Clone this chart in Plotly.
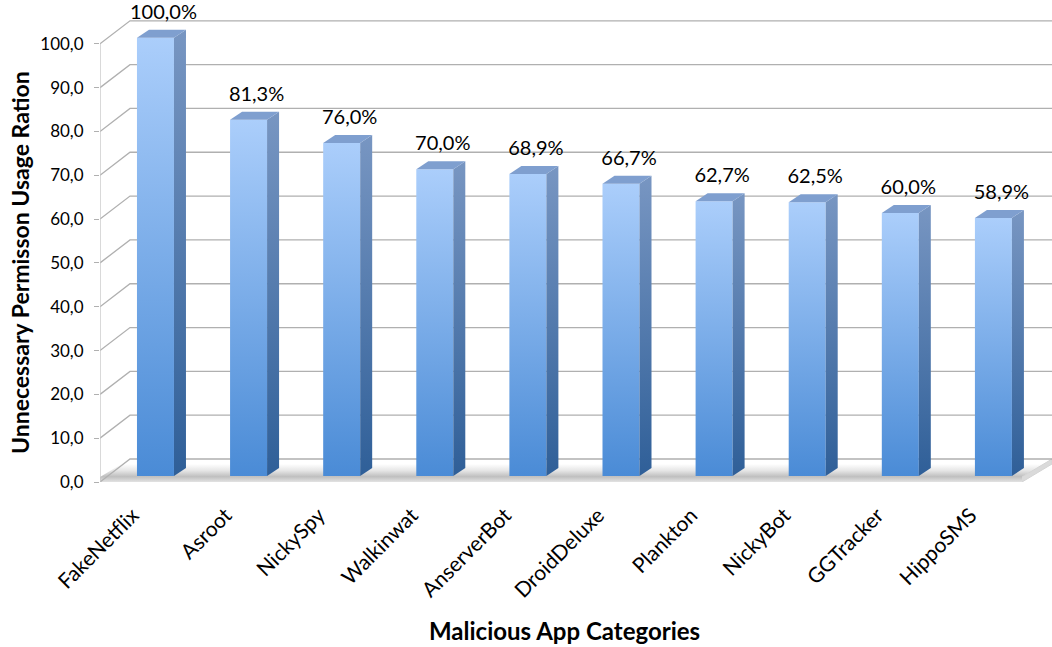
import plotly.graph_objects as go

# ---- data ----
categories = ["FakeNetflix", "Asroot", "NickySpy", "Walkinwat", "AnserverBot",
              "DroidDeluxe", "Plankton", "NickyBot", "GGTracker", "HippoSMS"]
ratios = [100.0, 81.3, 76.0, 70.0, 68.9, 66.7, 62.7, 62.5, 60.0, 58.9]
y_ticks = [0, 10, 20, 30, 40, 50, 60, 70, 80, 90, 100]
y_title = "Unnecessary Permisson Usage Ration"
x_title = "Malicious App Categories"

# ---- layout geometry ----
W, H = 1052, 647
ML, MR, MT, MB = 100, 0, 0, 165
PLOT_W, PLOT_H = W - ML - MR, H - MT - MB
X_RANGE = [-0.512, 9.713]
Y_RANGE = [0.0, 110.0]
PXX = PLOT_W / (X_RANGE[1] - X_RANGE[0])   # pixels per category unit
PXY = PLOT_H / (Y_RANGE[1] - Y_RANGE[0])   # pixels per value unit

# oblique projection offsets in pixels (right, up)
BACK = (30, 23)        # front plane -> back wall
BAR_FRONT = (7.8, 6)   # front plane -> bar front face
BAR_DEPTH = (12, 8)    # bar front face -> bar back face
BAR_HALF = 18.5        # half width of bar front face (px)
LABEL_SHIFT = 15       # category labels sit left of the category centre (px)

FONT = "Lato, 'Open Sans', sans-serif"


def sx(px):
    return px / PXX


def sy(px):
    return px / PXY


fig = go.Figure()

# ---- floor slab ----
x0 = X_RANGE[0]
x1 = X_RANGE[1]
x_front_end = x1 - sx(BACK[0])
slab_top = sy(5)
# floor top surface with soft shadow near the front
fig.add_trace(go.Scatter(
    x=[x0, x_front_end, x1, x0 + sx(BACK[0]), x0],
    y=[slab_top, slab_top, sy(BACK[1]), sy(BACK[1]), slab_top],
    mode="lines", line=dict(width=0), fill="toself",
    fillgradient=dict(type="vertical", start=slab_top, stop=slab_top + sy(13),
                      colorscale=[[0, "#bdbdbd"], [0.5, "#e6e6e6"], [1, "#ffffff"]]),
    hoverinfo="skip", showlegend=False))
# slab front face
fig.add_trace(go.Scatter(
    x=[x0, x_front_end, x_front_end, x0, x0],
    y=[0, 0, slab_top, slab_top, 0],
    mode="lines", line=dict(width=0), fill="toself",
    fillgradient=dict(type="vertical",
                      colorscale=[[0, "#e2e2e2"], [1, "#c2c2c2"]]),
    hoverinfo="skip", showlegend=False))
# slab right end
fig.add_trace(go.Scatter(
    x=[x_front_end, x1, x1, x_front_end],
    y=[0, sy(BACK[1]) - slab_top, sy(BACK[1]), slab_top],
    mode="lines", line=dict(color="#d4d4d4", width=1), fill="toself",
    fillcolor="#dadada", hoverinfo="skip", showlegend=False))

# ---- side wall and back wall gridlines ----
for t in y_ticks:
    fig.add_trace(go.Scatter(
        x=[x0, x0 + sx(BACK[0]), x1],
        y=[t, t + sy(BACK[1]), t + sy(BACK[1])],
        mode="lines", line=dict(color="#b0b0b0", width=1.3),
        hoverinfo="skip", showlegend=False))

# value axis line
fig.add_trace(go.Scatter(
    x=[x0, x0], y=[y_ticks[0], y_ticks[-1]], mode="lines",
    line=dict(color="#c4c4c4", width=1.3), hoverinfo="skip", showlegend=False))

# ---- 3D bars ----
fx, fy = sx(BAR_FRONT[0]), sy(BAR_FRONT[1])
dx, dy = sx(BAR_DEPTH[0]), sy(BAR_DEPTH[1])
hw = sx(BAR_HALF)
for i, v in enumerate(ratios):
    left, right = i + fx - hw, i + fx + hw
    bot, top = fy, v + fy
    # front face
    fig.add_trace(go.Scatter(
        x=[left, right, right, left, left], y=[bot, bot, top, top, bot],
        mode="lines", line=dict(width=0), fill="toself",
        fillgradient=dict(type="vertical",
                          colorscale=[[0, "#4a8bd6"], [1, "#abcefb"]]),
        hoverinfo="skip", showlegend=False))
    # side face
    fig.add_trace(go.Scatter(
        x=[right, right + dx, right + dx, right, right],
        y=[bot, bot + dy, top + dy, top, bot],
        mode="lines", line=dict(width=0), fill="toself",
        fillgradient=dict(type="vertical",
                          colorscale=[[0, "#2f5f98"], [1, "#7896c2"]]),
        hoverinfo="skip", showlegend=False))
    # top face
    fig.add_trace(go.Scatter(
        x=[left, right, right + dx, left + dx, left],
        y=[top, top, top + dy, top + dy, top],
        mode="lines", line=dict(width=0), fill="toself",
        fillcolor="#7f9fcf", hoverinfo="skip", showlegend=False))

# ---- value labels ----
fig.add_trace(go.Scatter(
    x=[i + sx(BAR_FRONT[0] + 8) for i in range(len(ratios))],
    y=[v + sy(BAR_FRONT[1] + 24) for v in ratios],
    mode="text",
    text=[f"{v:.1f}%".replace(".", ",") for v in ratios],
    textposition="middle center",
    textfont=dict(family=FONT, size=20, color="#000000"),
    cliponaxis=False, hoverinfo="skip", showlegend=False))

fig.update_layout(
    width=W, height=H,
    margin=dict(l=ML, r=MR, t=MT, b=MB),
    paper_bgcolor="white", plot_bgcolor="white",
    separators=",.",
    xaxis=dict(range=X_RANGE,
               tickvals=[i - sx(LABEL_SHIFT) for i in range(len(categories))],
               ticktext=categories, tickangle=-45, ticklabelstandoff=16,
               tickfont=dict(family=FONT, size=21, color="#000000"),
               showgrid=False, zeroline=False, showline=False, ticks=""),
    yaxis=dict(range=Y_RANGE, tickvals=y_ticks, tickformat=".1f",
               tickfont=dict(family=FONT, size=17, color="#000000"),
               ticks="outside", ticklen=5, tickcolor="#b0b0b0",
               ticklabelstandoff=7,
               showgrid=False, zeroline=False, showline=False),
    annotations=[
        dict(text=f"<b>{x_title}</b>", xref="paper", yref="paper",
             x=(564 - ML) / PLOT_W, y=-(630 - MT - PLOT_H) / PLOT_H,
             xanchor="center", yanchor="middle", showarrow=False,
             font=dict(family=FONT, size=24, color="#000000")),
        dict(text=f"<b>{y_title}</b>", xref="paper", yref="paper",
             x=(20 - ML) / PLOT_W, y=1 - (263 - MT) / PLOT_H,
             xanchor="center", yanchor="middle", textangle=-90, showarrow=False,
             font=dict(family=FONT, size=23, color="#000000")),
    ],
)

fig.write_html("out.html")
